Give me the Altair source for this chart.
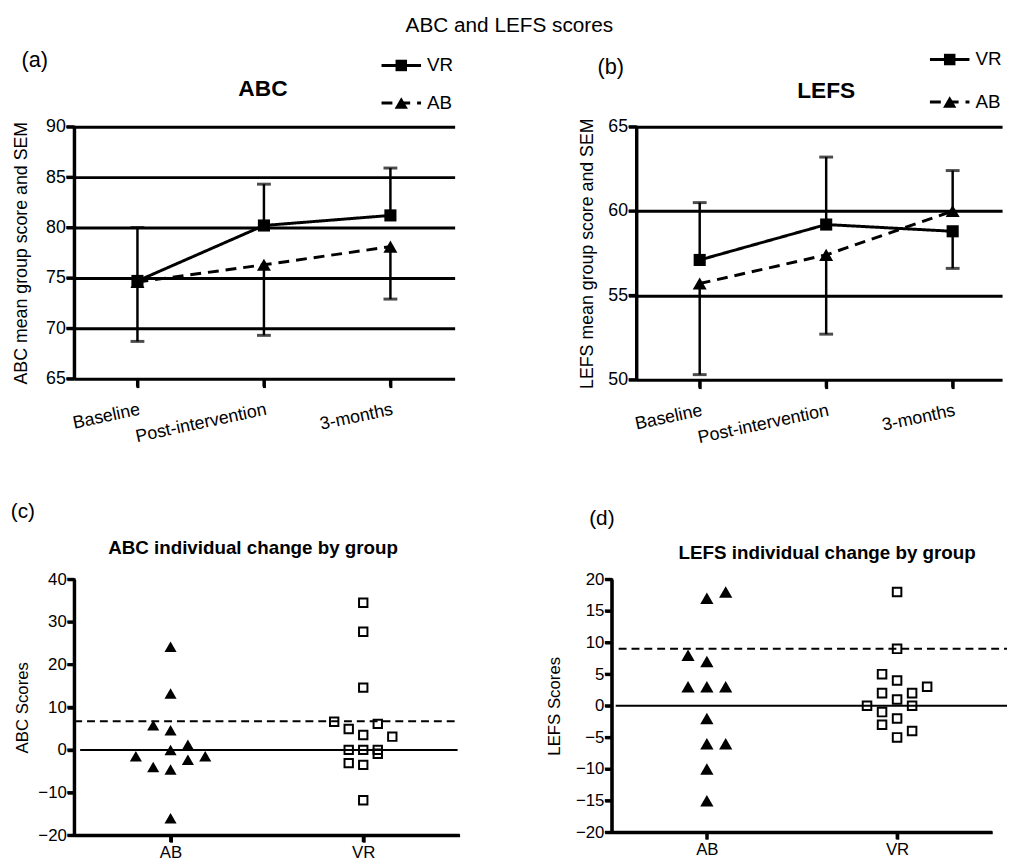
import altair as alt
import pandas as pd

FONT = "Liberation Sans"

# ---------------- data ----------------
times = ["Baseline", "Post-intervention", "3-months"]
line_groups = ["VR", "AB"]

abc_vr_mean = [74.7, 80.2, 81.2]
abc_ab_mean = [74.6, 76.3, 78.1]
abc_vr_err_end = [80.0, 84.3, 85.9]
abc_ab_err_end = [68.7, 69.3, 72.9]
abc_ticks = [65, 70, 75, 80, 85, 90]

lefs_vr_mean = [57.1, 59.2, 58.8]
lefs_ab_mean = [55.7, 57.4, 60.0]
lefs_vr_err_end = [60.5, 63.2, 56.6]
lefs_ab_err_end = [50.3, 52.7, 62.4]
lefs_ticks = [50, 55, 60, 65]

change_groups = ["AB", "VR"]
abc_ab_change = [24.2, 13.2, 5.8, 4.6, 1.2, 0.0, -1.5, -1.5, -2.3, -4.0, -4.6, -16.0]
abc_ab_slot = [0, 0, -1, 0, 1, 0, -2, 2, 1, -1, 0, 0]
abc_vr_change = [34.5, 27.7, 14.6, 6.6, 6.1, 4.9, 3.5, 3.1, 0.0, 0.0, 0.0, -0.9, -3.1, -3.5, -11.8]
abc_vr_slot = [0, 0, 0, -2, 1, -1, 0, 2, -1, 0, 1, 1, -1, 0, 0]
abc_change_ticks = [-20, -10, 0, 10, 20, 30, 40]
abc_mcid = 6.7

lefs_ab_change = [17, 18, 8, 7, 3, 3, 3, -2, -6, -6, -10, -15]
lefs_ab_slot = [0, 1, -1, 0, -1, 0, 1, 0, 0, 1, 0, 0]
lefs_vr_change = [18, 9, 5, 4, 3, 2, 2, 1, 0, 0, -1, -2, -3, -4, -5]
lefs_vr_slot = [0, 0, -1, 0, 2, -1, 1, 0, -2, 1, -1, 0, -1, 1, 0]
lefs_change_ticks = [-20, -15, -10, -5, 0, 5, 10, 15, 20]
lefs_mcid = 9.0

DASH = {"VR": [1, 0], "AB": [11, 7]}
SHAPE = {"VR": "square", "AB": "triangle-up"}
SIZE = {"VR": 150, "AB": 200}

TIME_LABELS = "[" + ",".join(f"'{t}'" for t in times) + "][datum.value]"
ONE = pd.DataFrame({"k": [0]})


def text_layer(txt, x, y, size, weight="normal"):
    return alt.Chart(pd.DataFrame({"t": [txt]})).mark_text(
        fontSize=size, fontWeight=weight, font=FONT, color="black",
        align="center", baseline="middle"
    ).encode(text="t:N", x=alt.value(x), y=alt.value(y))


def axis_overlays(X_field, x_ticks, xs, xaxis, Y_field, y_ticks, ys, yaxis,
                  width, height, tick_len, x_domain=True):
    """thick axis lines and ticks drawn on top of the axis"""
    out = [alt.Chart(ONE).mark_rule(color="black", strokeWidth=3).encode(
        x=alt.value(0), y=alt.value(-1), y2=alt.value(height + 1))]
    if x_domain:
        out.append(alt.Chart(ONE).mark_rule(color="black", strokeWidth=3).encode(
            y=alt.value(height), x=alt.value(-1), x2=alt.value(width)))
    out.append(alt.Chart(pd.DataFrame({Y_field: y_ticks})).mark_rule(
        color="black", strokeWidth=3).encode(
        y=alt.Y(f"{Y_field}:Q", scale=ys, axis=yaxis),
        x=alt.value(-tick_len), x2=alt.value(0)))
    out.append(alt.Chart(pd.DataFrame({X_field: x_ticks})).mark_rule(
        color="black", strokeWidth=3).encode(
        x=alt.X(f"{X_field}:Q", scale=xs, axis=xaxis), y=alt.value(height),
        y2=alt.value(height + tick_len)))
    return out


def line_panel(tag, heading, vr_mean, ab_mean, vr_err, ab_err, ticks, ytitle,
               width, height, step_px, title_x, tag_xy, head_xy, leg_x, leg_y):
    df = pd.DataFrame({
        "t": [0, 1, 2] * 2,
        "group": ["VR"] * 3 + ["AB"] * 3,
        "mean": vr_mean + ab_mean,
        "err": vr_err + ab_err,
    })
    yaxis = alt.Axis(values=ticks, grid=True, gridColor="black", gridWidth=3,
                     gridOpacity=1, domainColor="black", domainWidth=3,
                     tickColor="black", tickWidth=3, tickSize=8,
                     labelFontSize=18, labelColor="black", labelPadding=1,
                     labelFont=FONT, title=ytitle, titleFont=FONT,
                     titleFontSize=18, titleFontWeight="normal",
                     titleColor="black", titleAngle=270,
                     titleBaseline="alphabetic", titleAlign="center",
                     titleX=title_x, titleY=height / 2)
    yscale = alt.Scale(domain=[ticks[0], ticks[-1]], nice=False, zero=False)
    xscale = alt.Scale(domain=[-0.5, width / step_px - 0.5], nice=False, zero=False)
    xaxis = alt.Axis(values=[0, 1, 2], labelExpr=TIME_LABELS,
                     title=None, domain=False, grid=False,
                     tickColor="black", tickWidth=3, tickSize=9,
                     labelAngle=348, labelAlign="right",
                     labelBaseline="top", labelFontSize=18,
                     labelFont=FONT, labelColor="black",
                     labelPadding=13, labelOverlap=False,
                     labelBound=False, labelFlush=False)
    X = alt.X("t:Q", scale=xscale, axis=xaxis)

    def Y(field):
        return alt.Y(f"{field}:Q", scale=yscale, axis=yaxis)

    base = alt.Chart(df)
    err_rule = base.mark_rule(color="black", strokeWidth=2.5).encode(
        x=X, y=Y("mean"), y2="err:Q")
    caps = base.mark_tick(color="black", thickness=3, size=14,
                          orient="horizontal").encode(x=X, y=Y("err"))
    lines = base.mark_line(color="black", strokeWidth=3).encode(
        x=X, y=Y("mean"),
        strokeDash=alt.StrokeDash("group:N", scale=alt.Scale(
            domain=line_groups, range=[DASH[g] for g in line_groups]), legend=None),
        detail="group:N", order=alt.Order("t:Q"))
    pts = base.mark_point(filled=True, opacity=1, color="black").encode(
        x=X, y=Y("mean"),
        shape=alt.Shape("group:N", scale=alt.Scale(
            domain=line_groups, range=[SHAPE[g] for g in line_groups]), legend=None),
        size=alt.Size("group:N", scale=alt.Scale(
            domain=line_groups, range=[SIZE[g] for g in line_groups]), legend=None))

    layers = [err_rule, caps, lines, pts]
    layers += axis_overlays("t", [0, 1, 2], xscale, xaxis, "mean", ticks, yscale,
                            yaxis, width, height, 8, x_domain=False)
    for i, g in enumerate(line_groups):
        ld = pd.DataFrame({"group": [g]})
        ly = leg_y[i]
        layers.append(alt.Chart(ld).mark_rule(
            color="black", strokeWidth=3, strokeDash=DASH[g]).encode(
            x=alt.value(leg_x), x2=alt.value(leg_x + 40), y=alt.value(ly)))
        layers.append(alt.Chart(ld).mark_point(
            filled=True, opacity=1, color="black", shape=SHAPE[g],
            size=SIZE[g] * 0.9).encode(x=alt.value(leg_x + 20), y=alt.value(ly)))
        layers.append(alt.Chart(ld).mark_text(
            align="left", baseline="middle", fontSize=19, font=FONT,
            color="black").encode(text="group:N", x=alt.value(leg_x + 46),
                                  y=alt.value(ly)))
    layers.append(text_layer(tag, tag_xy[0], tag_xy[1], 22))
    layers.append(text_layer(heading, head_xy[0], head_xy[1], 23, "bold"))
    return alt.layer(*layers).properties(width=width, height=height)


def scatter_panel(tag, heading, ab_vals, ab_slot, vr_vals, vr_slot, ab_step,
                  vr_step, mcid, ticks, ytitle, width, height, title_x, tag_xy,
                  head_xy, zero_x, mcid_x, ab_size, vr_size, title_size):
    ab = pd.DataFrame({"group": "AB", "value": ab_vals, "slot": ab_slot})
    vr = pd.DataFrame({"group": "VR", "value": vr_vals, "slot": vr_slot})
    label_expr = f"datum.value == 0 ? '{change_groups[0]}' : '{change_groups[1]}'"
    xscale = alt.Scale(domain=[-0.5, 1.5], nice=False, zero=False)
    xaxis = alt.Axis(values=[0, 1], labelExpr=label_expr, title=None,
                     grid=False, domainColor="black", domainWidth=3,
                     tickColor="black", tickWidth=3, tickSize=7,
                     labelFontSize=17, labelFont=FONT, labelPadding=3,
                     labelColor="black", labelAngle=0)
    X = alt.X("pos:Q", scale=xscale, axis=xaxis)
    yaxis = alt.Axis(values=ticks, grid=False, domainColor="black",
                     domainWidth=3, tickColor="black", tickWidth=3, tickSize=7,
                     labelFontSize=17, labelFont=FONT, labelColor="black",
                     labelPadding=1, labelOverlap=False, title=ytitle,
                     titleFont=FONT, titleFontSize=17, titleFontWeight="normal",
                     titleColor="black", titleAngle=270,
                     titleBaseline="alphabetic", titleAlign="center",
                     titleX=title_x, titleY=height / 2)
    yscale = alt.Scale(domain=[ticks[0], ticks[-1]], nice=False, zero=False)
    Y = alt.Y("value:Q", scale=yscale, axis=yaxis)
    zero = alt.Chart(pd.DataFrame({"value": [0.0]})).mark_rule(
        color="black", strokeWidth=2).encode(
        y=Y, x=alt.value(zero_x[0]), x2=alt.value(zero_x[1]))
    mc = alt.Chart(pd.DataFrame({"value": [mcid]})).mark_rule(
        color="black", strokeWidth=2, strokeDash=[8, 5]).encode(
        y=Y, x=alt.value(mcid_x[0]), x2=alt.value(mcid_x[1]))
    ab_layer = alt.Chart(ab).transform_calculate(
        pos=f"{change_groups.index('AB')} + datum.slot * {ab_step}"
    ).mark_point(shape="triangle-up", filled=True, opacity=1, color="black",
                 size=ab_size).encode(x=X, y=Y)
    vr_layer = alt.Chart(vr).transform_calculate(
        pos=f"{change_groups.index('VR')} + datum.slot * {vr_step}"
    ).mark_point(shape="square", filled=False, opacity=1, color="black",
                 strokeWidth=2, size=vr_size).encode(x=X, y=Y)
    layers = [zero, mc, ab_layer, vr_layer]
    layers += axis_overlays("pos", [0, 1], xscale, xaxis, "value", ticks, yscale,
                            yaxis, width, height, 7)
    layers += [text_layer(tag, tag_xy[0], tag_xy[1], 21),
               text_layer(heading, head_xy[0], head_xy[1], title_size, "bold")]
    return alt.layer(*layers).properties(width=width, height=height)


panel_a = line_panel("(a)", "ABC", abc_vr_mean, abc_ab_mean, abc_vr_err_end,
                     abc_ab_err_end, abc_ticks, "ABC mean group score and SEM",
                     385, 255, 128, -48, (-40, -67), (191, -38),
                     311, (-62, -24))
panel_b = line_panel("(b)", "LEFS", lefs_vr_mean, lefs_ab_mean, lefs_vr_err_end,
                     lefs_ab_err_end, lefs_ticks, "LEFS mean group score and SEM",
                     370, 256, 128, -44, (-26, -60), (192, -36),
                     297, (-68, -25))
panel_c = scatter_panel("(c)", "ABC individual change by group",
                        abc_ab_change, abc_ab_slot, abc_vr_change, abc_vr_slot,
                        0.090, 0.0754, abc_mcid, abc_change_ticks, "ABC Scores",
                        390, 259, -47, (-52, -68), (181, -32), (6, 388), (0, 386),
                        150, 72, 19)
panel_d = scatter_panel("(d)", "LEFS individual change by group",
                        lefs_ab_change, lefs_ab_slot, lefs_vr_change, lefs_vr_slot,
                        0.099, 0.079, lefs_mcid, lefs_change_ticks, "LEFS Scores",
                        385, 256, -53, (-10, -61), (218, -27), (4, 400), (7, 400),
                        180, 75, 19)

row1 = alt.hconcat(panel_a, panel_b, spacing=125)
row2 = alt.hconcat(panel_c, panel_d, spacing=85)

chart = alt.vconcat(row1, row2, spacing=55).properties(
    title=alt.TitleParams("ABC and LEFS scores", fontSize=21, fontWeight="normal",
                          font=FONT, anchor="middle", offset=14, color="black"),
    padding={"left": 2, "top": 2, "right": 0, "bottom": 0},
    background="white",
).configure(font=FONT).configure_view(stroke=None).configure_axis(
    domainColor="black", domainWidth=3, tickColor="black", tickWidth=3,
    labelColor="black", titleColor="black"
)

chart.save("out.html", embed_options={"renderer": "svg", "actions": False})
